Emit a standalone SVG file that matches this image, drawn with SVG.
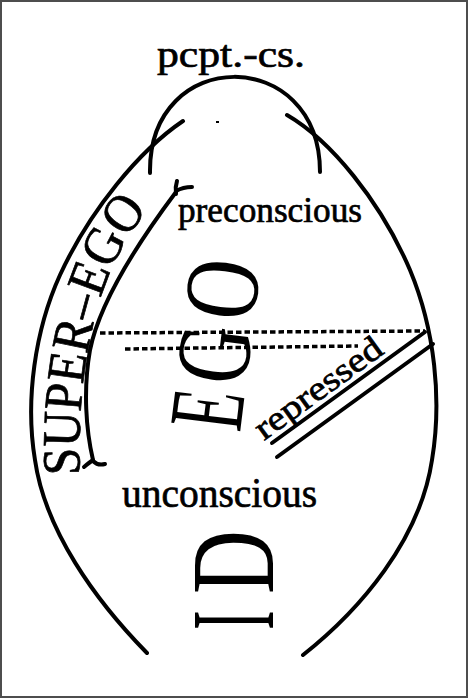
<svg xmlns="http://www.w3.org/2000/svg" width="468" height="698" viewBox="0 0 468 698">
<style>
.ln{fill:none;stroke:#000;stroke-width:4;stroke-linecap:round;stroke-linejoin:round}
.dot{fill:none;stroke:#000;stroke-width:3.5;stroke-dasharray:5.5 3}
.t{font-family:"Liberation Serif","DejaVu Serif",serif;fill:#000}
.s{stroke:#000;stroke-width:0.7}
</style>
<rect x="1" y="1" width="466" height="696" fill="#fff" stroke="#4d4d4d" stroke-width="2"/>
<g id="connectors">
<path class="ln" d="M150,173 C148,45 320,45 320,172"/>
<path class="ln" d="M183,121 C140,150 90,210 60,275 C35,330 25,400 35,460 C45,530 95,600 147,653"/>
<path class="ln" d="M287,115 C330,140 380,200 410,270 C435,330 442,400 432,460 C420,540 360,610 303,655"/>
<path class="ln" d="M176,192 C140,240 100,300 90,350 C83,390 86,430 93,460"/>
<path class="ln" stroke-width="3.5" d="M177,181 Q175,187 176,194 M176,191 Q183,187 192,187"/>
<path class="ln" stroke-width="3.5" d="M84,467 Q90,462 93,460 M93,461 Q98,466 105,464"/>
<path class="dot" d="M100,333 L425,331"/>
<path class="dot" d="M125,349 L358,346"/>
<path class="ln" stroke-width="3.5" d="M272,443 L425,332 M277,457 L433,344"/>
<rect x="216" y="121" width="3" height="2" fill="#000"/>
</g>
<defs>
<path id="sepath" d="M80,478 C78,420 82,360 100,300 C112,262 130,228 160,196"/>
</defs>
<g id="pcpt-cs"><text class="t s" x="157" y="67" font-size="38" textLength="148" lengthAdjust="spacingAndGlyphs">pcpt.-cs.</text></g>
<g id="preconscious"><text class="t s" x="178" y="222" font-size="36" textLength="184" lengthAdjust="spacingAndGlyphs">preconscious</text></g>
<g id="super-ego"><text class="t s" font-size="54"><textPath href="#sepath" startOffset="3" textLength="280" lengthAdjust="spacingAndGlyphs">SUPER–EGO</textPath></text></g>
<g id="ego">
<text class="t" font-size="106" transform="translate(240,433) rotate(-83) scale(0.6,1)">E</text>
<text class="t" font-size="106" transform="translate(245.6,387) rotate(-83) scale(0.75,1)">G</text>
<text class="t" font-size="106" transform="translate(253.5,323) rotate(-83) scale(0.78,1)">O</text>
</g>
<g id="repressed"><text class="t s" font-size="34" transform="translate(264,441) rotate(-36)" textLength="150" lengthAdjust="spacingAndGlyphs">repressed</text></g>
<g id="unconscious"><text class="t s" x="122" y="507" font-size="42" textLength="195" lengthAdjust="spacingAndGlyphs">unconscious</text></g>
<g id="id">
<text class="t" font-size="118" transform="translate(273,630) rotate(-90) scale(0.5,1)">I</text>
<text class="t" font-size="118" transform="translate(273,594) rotate(-90) scale(0.75,1)">D</text>
</g>
</svg>
